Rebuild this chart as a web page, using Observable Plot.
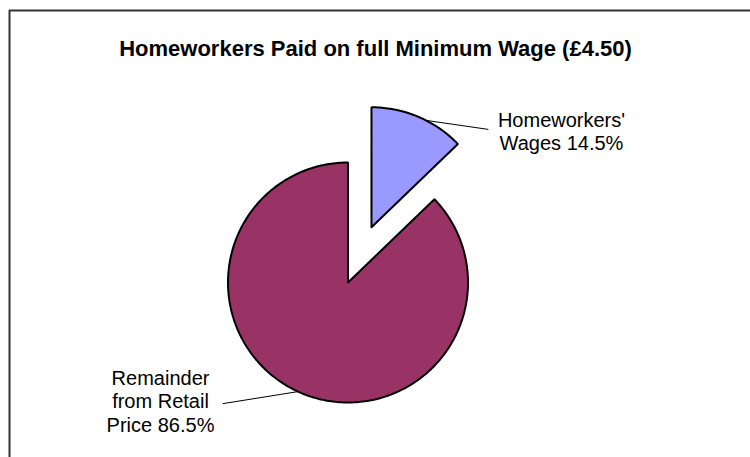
<!DOCTYPE html>
<html>
<head>
<meta charset="utf-8">
<script src="https://cdn.jsdelivr.net/npm/d3@7"></script>
<script src="https://cdn.jsdelivr.net/npm/@observablehq/plot@0.6"></script>
<style>
  html, body { margin: 0; padding: 0; background: #fff; }
  #chart { width: 750px; height: 457px; overflow: hidden; }
</style>
</head>
<body>
<div id="chart"></div>
<script>
// ---- data ----
const categories = ["Homeworkers' Wages", "Remainder from Retail Price"];
const shares = [12.8, 87.2];              // slice sizes as drawn (percent of pie)
const labelLines = [["Homeworkers'", "Wages 14.5%"], ["Remainder", "from Retail", "Price 86.5%"]];
const colors = ["#9999FF", "#993366"];
const exploded = [true, false];
const title = "Homeworkers Paid on full Minimum Wage (£4.50)";

// ---- layout ----
const W = 750, H = 457;
const cx = 347.5, cy = 282, R = 120, explode = 0.5;
const font = "Liberation Sans, Arial, sans-serif";

const total = d3.sum(shares);
let acc = 0;
const slices = shares.map((v, i) => {
  const a0 = acc / total * 2 * Math.PI;
  acc += v;
  const a1 = acc / total * 2 * Math.PI;
  const mid = (a0 + a1) / 2;
  const off = exploded[i] ? explode * R : 0;
  const ox = cx + off * Math.sin(mid), oy = cy - off * Math.cos(mid);
  const n = Math.max(8, Math.ceil((a1 - a0) / (Math.PI / 180)));
  const pts = [{x: ox, y: oy}];
  for (let k = 0; k <= n; k++) {
    const a = a0 + (a1 - a0) * k / n;
    pts.push({x: ox + R * Math.sin(a), y: oy - R * Math.cos(a)});
  }
  pts.push({x: ox, y: oy});
  return {i, a0, a1, mid, ox, oy, pts};
});

// leader lines & labels (angles on the arc, label anchor offsets)
const leaderAngleDeg = [27, 204.6];
const leaderEnd = [[62, 9], [-75, 12]];   // offsets from arc point to label end (px)
const labelPos = [[561, 120], [160, 378]];
const lineStep = 23.5;

const leaders = slices.map((s, i) => {
  const a = leaderAngleDeg[i] * Math.PI / 180;
  const x1 = s.ox + R * Math.sin(a), y1 = s.oy - R * Math.cos(a);
  return [{x: x1, y: y1}, {x: x1 + leaderEnd[i][0], y: y1 + leaderEnd[i][1]}];
});

const texts = [];
labelLines.forEach((lines, i) => lines.forEach((t, k) =>
  texts.push({x: labelPos[i][0], y: labelPos[i][1] + k * lineStep, t})));

const marks = [
  Plot.ruleX([9], {y1: 10, y2: H, stroke: "#333", strokeWidth: 2}),
  Plot.ruleY([10], {x1: 9, x2: W, stroke: "#333", strokeWidth: 2}),
  Plot.text([title], {x: W / 2, y: 48, text: d => d, fontSize: 22, fontWeight: "bold", fill: "#000"}),
  ...slices.map((s, i) => Plot.line(s.pts, {x: "x", y: "y", fill: colors[i], stroke: "#000", strokeWidth: 2, strokeLinejoin: "miter", curve: "linear"})),
  ...leaders.map(l => Plot.line(l, {x: "x", y: "y", stroke: "#000", strokeWidth: 1})),
  Plot.text(texts, {x: "x", y: "y", text: "t", fontSize: 20, fill: "#000", textAnchor: "middle"})
];

const chart = Plot.plot({
  width: W, height: H,
  margin: 0,
  x: {domain: [0, W], range: [0, W], axis: null},
  y: {domain: [0, H], range: [0, H], axis: null},
  style: {fontFamily: font, background: "#fff"},
  marks
});
document.getElementById("chart").appendChild(chart);
</script>
</body>
</html>
